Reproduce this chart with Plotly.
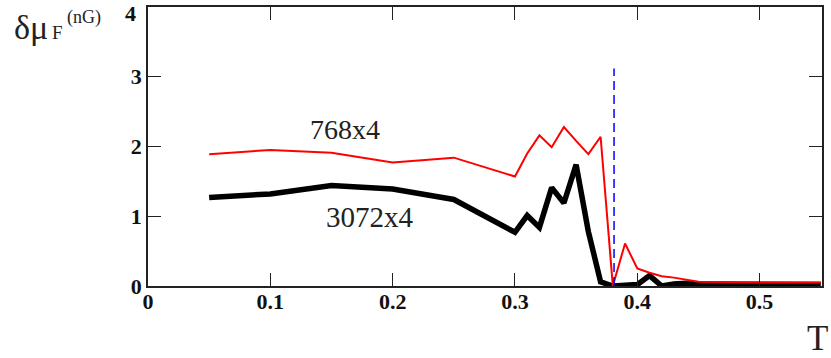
import plotly.graph_objects as go

# Data
T_768 = [0.05, 0.1, 0.15, 0.2, 0.25, 0.3, 0.31, 0.32, 0.33, 0.34, 0.35, 0.36, 0.37,
         0.38, 0.39, 0.40, 0.41, 0.42, 0.43, 0.44, 0.45, 0.5, 0.55]
dmu_768 = [1.89, 1.95, 1.91, 1.77, 1.84, 1.57, 1.90, 2.16, 1.99, 2.28, 2.08, 1.89, 2.14,
           0.0, 0.61, 0.25, 0.19, 0.14, 0.12, 0.09, 0.06, 0.05, 0.05]

T_3072 = [0.05, 0.1, 0.15, 0.2, 0.25, 0.3, 0.31, 0.32, 0.33, 0.34, 0.35, 0.36, 0.37,
          0.38, 0.39, 0.40, 0.41, 0.42, 0.43, 0.44, 0.45, 0.5, 0.55]
dmu_3072 = [1.27, 1.32, 1.44, 1.39, 1.24, 0.77, 1.01, 0.84, 1.41, 1.19, 1.74, 0.78, 0.06,
            0.0, 0.01, 0.02, 0.15, 0.0, 0.03, 0.04, 0.03, 0.02, 0.02]

Tc_x = [0.381, 0.381]
Tc_y = [0.0, 3.12]

x_ticks = [0, 0.1, 0.2, 0.3, 0.4, 0.5]
x_ticklabels = ["0", "0.1", "0.2", "0.3", "0.4", "0.5"]
y_ticks = [0, 1, 2, 3, 4]

W, H = 831, 358
L, R, T, B = 148, 9, 5, 72
pw, ph = W - L - R, H - T - B


def px(xp):
    return (xp - L) / pw


def py(yp):
    return (H - B - yp) / ph


fig = go.Figure()
fig.add_trace(go.Scatter(x=T_3072, y=dmu_3072, mode="lines",
                         line=dict(color="black", width=5.5), showlegend=False))
fig.add_trace(go.Scatter(x=T_768, y=dmu_768, mode="lines",
                         line=dict(color="red", width=2), showlegend=False))
fig.add_trace(go.Scatter(x=Tc_x, y=Tc_y, mode="lines",
                         line=dict(color="blue", width=1.5, dash="9px,5px"),
                         showlegend=False))

serif = "Liberation Serif"
tickfont = dict(family=serif, size=22, color="#111")
axis_common = dict(showgrid=False, zeroline=False, showline=True, mirror="ticks",
                   linecolor="#222", linewidth=1.5, ticks="inside", ticklen=13,
                   tickwidth=1.2, tickcolor="#222", tickfont=tickfont)

fig.update_xaxes(range=[0, 0.551], tickvals=x_ticks, ticklabelstandoff=-5,
                 ticktext=["<b>%s</b>" % t for t in x_ticklabels], **axis_common)
fig.update_yaxes(range=[0, 4], tickvals=y_ticks[:-1],
                 ticktext=["<b>%d</b>" % v for v in y_ticks[:-1]], **axis_common)

ann = [
    dict(text="<b>%d</b>" % y_ticks[-1], x=px(138), y=py(12),
         xanchor="right", yanchor="middle", font=tickfont),
    dict(text="δμ", x=px(12), y=py(26), xanchor="left", yanchor="middle",
         font=dict(family=serif, size=34, color="#222")),
    dict(text="F", x=px(50), y=py(31), xanchor="left", yanchor="middle",
         font=dict(family=serif, size=19, color="#222")),
    dict(text="(nG)", x=px(65), y=py(16), xanchor="left", yanchor="middle",
         font=dict(family=serif, size=18, color="#222")),
    dict(text="T", x=px(817), y=py(339), xanchor="center", yanchor="middle",
         font=dict(family=serif, size=35, color="#222")),
    dict(text="768x4", x=px(345), y=py(128), xanchor="center", yanchor="middle",
         font=dict(family=serif, size=28, color="#222")),
    dict(text="3072x4", x=px(370), y=py(217), xanchor="center", yanchor="middle",
         font=dict(family=serif, size=29, color="#222")),
]
for a in ann:
    a.update(xref="paper", yref="paper", showarrow=False)

fig.update_layout(width=W, height=H, margin=dict(l=L, r=R, t=T, b=B),
                  paper_bgcolor="white", plot_bgcolor="white", annotations=ann)

fig.write_html("out.html", config={"displayModeBar": False},
               post_script="document.body.style.margin='0';document.body.style.overflow='hidden';")
